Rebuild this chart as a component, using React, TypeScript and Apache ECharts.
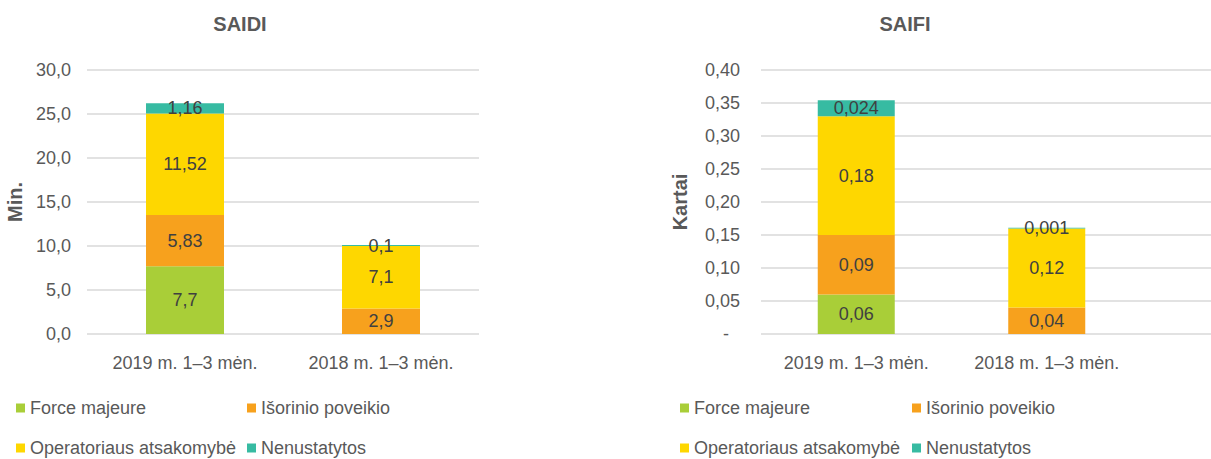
import React, { useEffect, useRef } from "react";
import * as echarts from "echarts";

const categories = ["2019 m. 1–3 mėn.", "2018 m. 1–3 mėn."];
const seriesNames = ["Force majeure", "Išorinio poveikio", "Operatoriaus atsakomybė", "Nenustatytos"];
const seriesColors = ["#A9CE38", "#F7A11D", "#FED700", "#37BBA2"];

const saidiForceMajeure = [7.7, 0];
const saidiIsorinio = [5.83, 2.9];
const saidiOperatoriaus = [11.52, 7.1];
const saidiNenustatytos = [1.16, 0.1];

const saifiForceMajeure = [0.06, 0];
const saifiIsorinio = [0.09, 0.04];
const saifiOperatoriaus = [0.18, 0.12];
const saifiNenustatytos = [0.024, 0.001];

const saidiTicks = { min: 0, max: 30, interval: 5 };
const saifiTicks = { min: 0, max: 0.4, interval: 0.05 };

const FONT = "'Liberation Sans', Arial, sans-serif";
const TXT = "#595959";
const LBL = "#404040";
const GRID = "#D9D9D9";

export default function App() {
  const ref = useRef<HTMLDivElement>(null);
  useEffect(() => {
    if (!ref.current) return;
    const chart = echarts.init(ref.current, undefined, { renderer: "svg" });
    const saidi = [saidiForceMajeure, saidiIsorinio, saidiOperatoriaus, saidiNenustatytos];
    const saifi = [saifiForceMajeure, saifiIsorinio, saifiOperatoriaus, saifiNenustatytos];
    const fmtVal = (v: number) => (v === 0 ? "" : String(v).replace(".", ","));
    const mkSeries = (data: number[][], idx: number, stack: string, bw: number) =>
      data.map((d, i) => ({
        type: "bar",
        name: seriesNames[i],
        stack,
        xAxisIndex: idx,
        yAxisIndex: idx,
        barWidth: bw,
        data: d,
        itemStyle: { color: seriesColors[i] },
        label: {
          show: true,
          position: "inside",
          color: LBL,
          fontSize: 18,
          fontFamily: FONT,
          formatter: (p: any) => fmtVal(p.value),
        },
      }));
    const legendPos = [
      [16, 399],
      [247, 399],
      [16, 439],
      [247, 439],
      [680, 399],
      [912, 399],
      [680, 439],
      [912, 439],
    ];
    const legends = legendPos.map((pos, k) => ({
      left: pos[0],
      top: pos[1],
      padding: 0,
      icon: "rect",
      itemWidth: 9,
      itemHeight: 9,
      data: [seriesNames[k % 4]],
      textStyle: { color: TXT, fontSize: 18, fontFamily: FONT },
    }));
    const catAxis = (gi: number) => ({
      type: "category",
      gridIndex: gi,
      data: categories,
      axisLine: { show: false },
      axisTick: { show: false },
      axisLabel: { color: TXT, fontSize: 18, fontFamily: FONT, margin: 20 },
    });
    chart.setOption({
      animation: false,
      graphic: [
        {
          type: "text",
          x: 240,
          y: 24,
          style: { text: "SAIDI", fill: TXT, font: `bold 20px ${FONT}`, textAlign: "center", textVerticalAlign: "middle" },
        },
        {
          type: "text",
          x: 905,
          y: 24,
          style: { text: "SAIFI", fill: TXT, font: `bold 20px ${FONT}`, textAlign: "center", textVerticalAlign: "middle" },
        },
      ],
      legend: legends,
      grid: [
        { left: 87, top: 70, width: 392, height: 264 },
        { left: 761, top: 70, width: 381, height: 264 },
        { left: 761, top: 70, width: 450, height: 264 },
      ],
      xAxis: [
        catAxis(0),
        catAxis(1),
        { type: "value", gridIndex: 2, show: false, min: 0, max: 1 },
      ],
      yAxis: [
        {
          type: "value",
          gridIndex: 0,
          ...saidiTicks,
          name: "Min.",
          nameLocation: "middle",
          nameGap: 62,
          nameTextStyle: { color: TXT, fontSize: 20, fontWeight: "bold", fontFamily: FONT },
          axisLine: { show: false },
          axisTick: { show: false },
          splitLine: { lineStyle: { color: GRID, width: 1.5 } },
          axisLabel: {
            color: TXT,
            fontSize: 18,
            fontFamily: FONT,
            margin: 16,
            formatter: (v: number) => v.toFixed(1).replace(".", ","),
          },
        },
        {
          type: "value",
          gridIndex: 1,
          ...saifiTicks,
          name: "Kartai",
          nameLocation: "middle",
          nameGap: 71,
          nameTextStyle: { color: TXT, fontSize: 20, fontWeight: "bold", fontFamily: FONT },
          axisLine: { show: false },
          axisTick: { show: false },
          splitLine: { show: false },
          axisLabel: {
            color: TXT,
            fontSize: 18,
            fontFamily: FONT,
            margin: 21,
            formatter: (v: number) => (Math.abs(v) < 1e-9 ? "{d|-}" : v.toFixed(2).replace(".", ",")),
            rich: { d: { color: TXT, fontSize: 18, fontFamily: FONT, padding: [0, 11, 0, 0] } },
          },
        },
        {
          type: "value",
          gridIndex: 2,
          ...saifiTicks,
          axisLine: { show: false },
          axisTick: { show: false },
          axisLabel: { show: false },
          splitLine: { lineStyle: { color: GRID, width: 1.5 } },
        },
      ],
      series: [...mkSeries(saidi, 0, "saidi", 78), ...mkSeries(saifi, 1, "saifi", 77)],
    });
    return () => chart.dispose();
  }, []);
  return (
    <div
      ref={ref}
      style={{ position: "absolute", left: 0, top: 0, width: 1211, height: 459, background: "#fff" }}
    />
  );
}
